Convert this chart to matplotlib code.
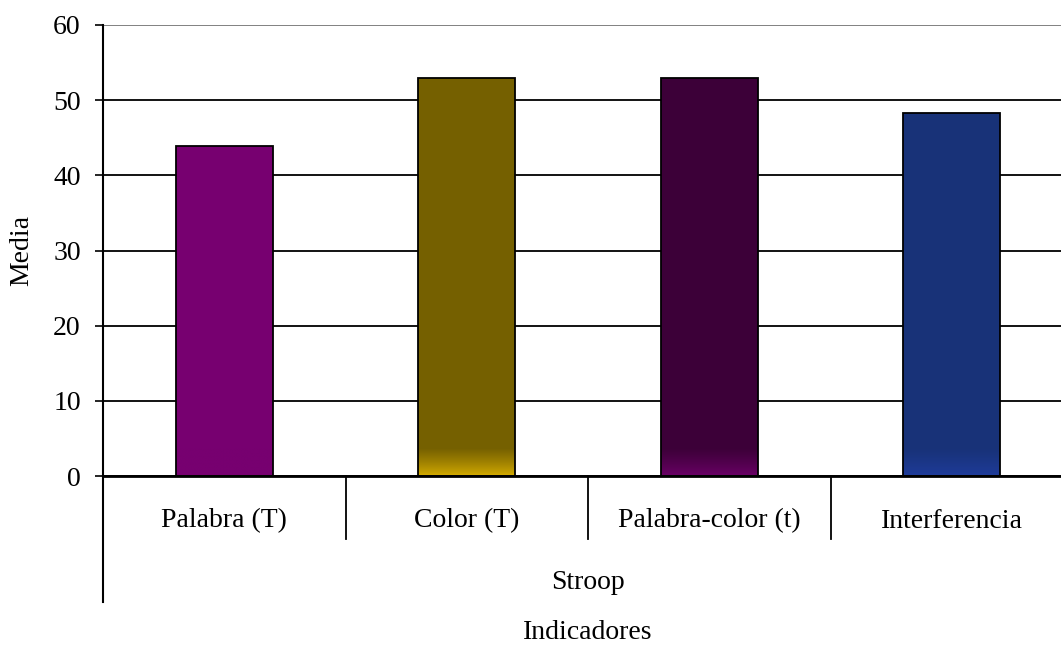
import numpy as np
import matplotlib.pyplot as plt
from matplotlib.colors import to_rgb

categorias = ['Palabra (T)', 'Color (T)', 'Palabra-color (t)', 'Interferencia']
medias = [43.9, 52.9, 52.9, 48.3]
color_arriba = ['#770070', '#756000', '#3c0038', '#183278']
color_abajo = ['#770070', '#d8ae00', '#6c0068', '#1f3c9c']
grupo = 'Stroop'
titulo_x = 'Indicadores'
titulo_y = 'Media'
marcas_y = [0, 10, 20, 30, 40, 50, 60]


def main():
    plt.rcParams['font.family'] = ['Liberation Serif', 'DejaVu Serif']
    plt.rcParams['font.size'] = 20

    fig = plt.figure(figsize=(10.61, 6.47), dpi=100)
    ax = fig.add_axes([103 / 1061, 171 / 647, 970 / 1061, 451 / 647])

    x = np.arange(len(categorias))
    barras = ax.bar(x, medias, width=0.4, color=color_arriba, zorder=2)

    # degradado en la parte baja de cada barra
    alto_grad = 3.7
    t = np.linspace(0, 1, 64)[:, None]
    for barra, c1, c0 in zip(barras, color_arriba, color_abajo):
        a = np.array(to_rgb(c0))
        b = np.array(to_rgb(c1))
        img = (a + (b - a) * t ** 0.8)[:, None, :]
        x0 = barra.get_x()
        im = ax.imshow(img, extent=[x0, x0 + barra.get_width(), 0, alto_grad],
                       origin='lower', aspect='auto', zorder=2.5,
                       interpolation='bilinear')
        im.set_clip_path(barra)

    ax.bar(x, medias, width=0.4, fill=False, edgecolor='black',
           linewidth=1.3, zorder=3)

    ax.set_xlim(-0.5, len(categorias) - 0.5)
    ax.set_ylim(0, 60)
    ax.set_yticks(marcas_y)
    ax.yaxis.grid(True, color='black', linewidth=1.3)
    ax.set_axisbelow(True)
    ax.get_ygridlines()[-1].set_color('#777777')

    for lado in ['top', 'right']:
        ax.spines[lado].set_visible(False)
    ax.spines['left'].set_linewidth(1.5)
    ax.spines['bottom'].set_linewidth(2)
    ax.tick_params(axis='y', direction='out', length=6, width=1.2, pad=10)
    ax.set_xticks([])

    trans = ax.get_xaxis_transform()
    for i in range(len(categorias) - 1):
        ax.plot([i + 0.5, i + 0.5], [0, -0.14], color='black', lw=1.3,
                transform=trans, clip_on=False)
    ax.plot([-0.5, -0.5], [0, -0.28], color='black', lw=1.5,
            transform=trans, clip_on=False)

    for i, nombre in enumerate(categorias):
        ax.text(i, -0.1, nombre, ha='center', va='center', transform=trans)
    ax.text(1.5, -0.237, grupo, ha='center', va='center', transform=trans)
    ax.text(1.5, -0.346, titulo_x, ha='center', va='center', transform=trans)

    fig.text(22 / 1061, 1 - 250 / 647, titulo_y, rotation=90,
             ha='center', va='center')

    fig.savefig('out.png', dpi=100)


if __name__ == '__main__':
    main()
